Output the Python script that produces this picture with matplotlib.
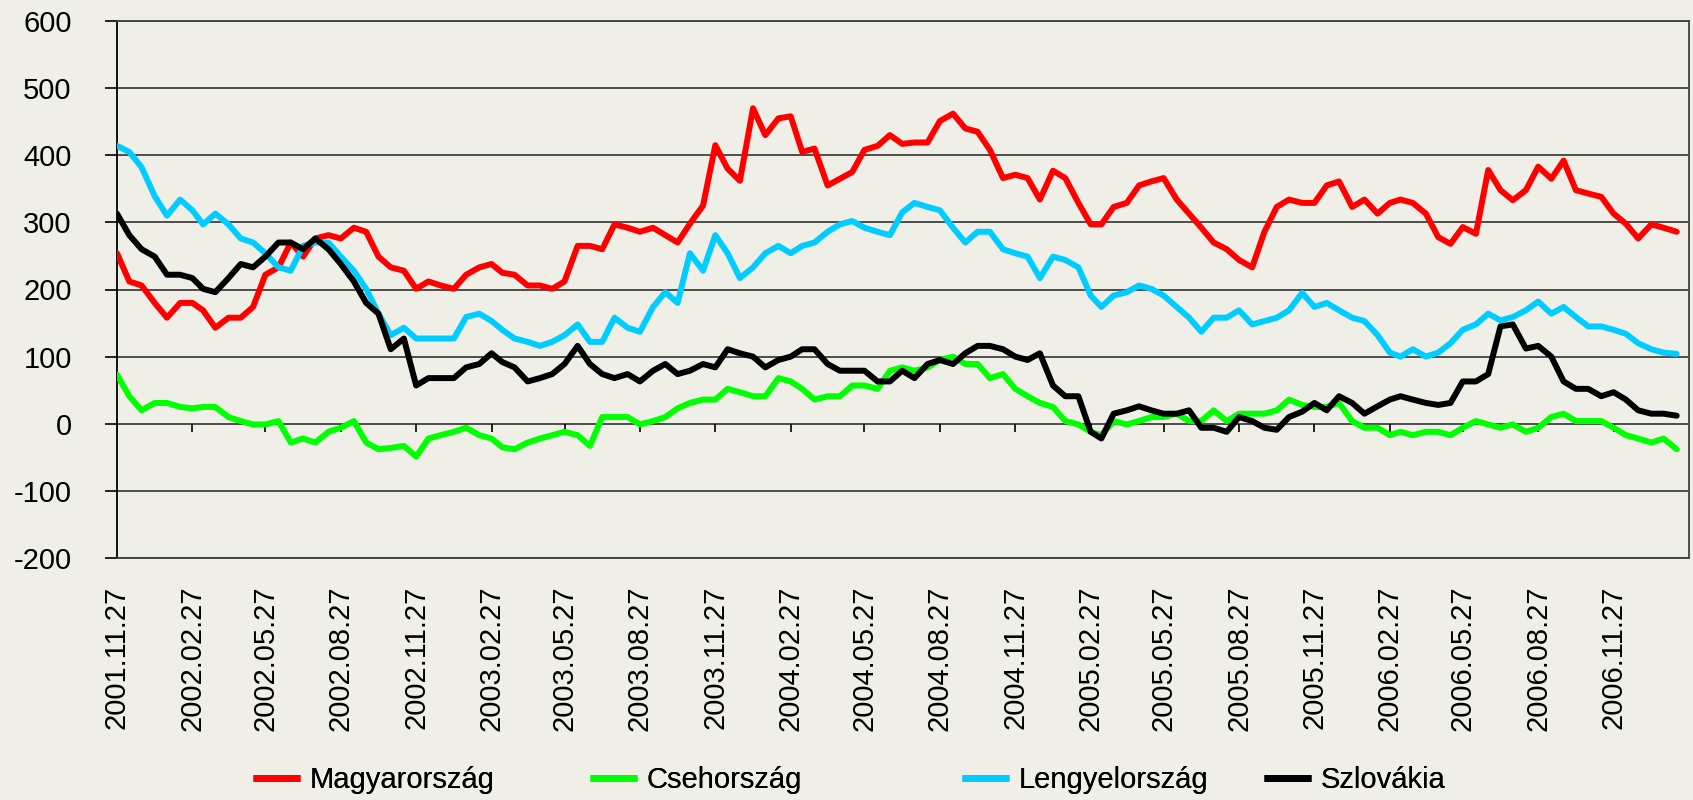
import matplotlib
matplotlib.use("Agg")
import matplotlib.pyplot as plt
import numpy as np
import pandas as pd

plt.rcParams['font.family'] = ['Liberation Sans', 'DejaVu Sans']
plt.rcParams['axes.unicode_minus'] = False

# felmintavételezés: minden hónap 12-e és 27-e, 2001.11.27 - 2007.02.12
honapok = pd.date_range('2001-11-01', periods=64, freq='MS')
datumok = []
for m in honapok:
    datumok.append(m + pd.Timedelta(days=11))
    datumok.append(m + pd.Timedelta(days=26))
datumok = pd.DatetimeIndex(datumok[1:127])

magyarorszag = [254, 212, 206, 180, 158, 180, 180, 169, 143, 158, 158, 174, 222, 233, 270, 249,
                276, 281, 276, 292, 286, 249, 233, 228, 201, 212, 206, 201, 222, 233, 238, 225,
                222, 206, 206, 201, 212, 265, 265, 260, 297, 292, 286, 292, 281, 270, 298, 325,
                415, 380, 362, 470, 430, 455, 458, 405, 410, 355, 365, 375, 408, 414, 430, 417,
                419, 419, 451, 462, 440, 435, 408, 366, 371, 366, 334, 377, 366, 329, 297, 297,
                323, 329, 355, 361, 366, 334, 313, 292, 270, 260, 244, 233, 286, 323, 334, 329,
                329, 355, 361, 323, 334, 313, 329, 334, 329, 313, 278, 268, 293, 283, 378, 348,
                333, 348, 383, 365, 392, 348, 343, 338, 313, 298, 276, 297, 292, 286]

csehorszag = [73, 41, 20, 31, 31, 25, 23, 25, 25, 10, 4, -1, -1, 4, -28, -22,
              -28, -12, -6, 4, -28, -38, -36, -33, -49, -22, -17, -12, -6, -17, -22, -35,
              -38, -28, -22, -17, -12, -17, -33, 10, 10, 10, -1, 4, 10, 23, 31, 36,
              36, 52, 47, 41, 41, 68, 63, 52, 36, 41, 41, 57, 57, 52, 79, 84,
              79, 84, 95, 100, 89, 89, 68, 74, 52, 41, 31, 25, 4, -1, -12, -17,
              4, -1, 4, 10, 10, 15, 4, 4, 20, 4, 15, 15, 15, 20, 36, 28,
              25, 25, 31, 4, -6, -6, -17, -12, -17, -12, -12, -17, -6, 4, -1, -6,
              -1, -12, -6, 10, 15, 4, 4, 4, -6, -17, -22, -28, -22, -38]

lengyelorszag = [414, 405, 382, 339, 310, 334, 318, 297, 313, 297, 276, 270, 254, 233, 228, 265,
                 270, 270, 249, 228, 201, 164, 132, 143, 127, 127, 127, 127, 159, 164, 153, 140,
                 127, 122, 116, 122, 132, 148, 122, 122, 158, 143, 137, 174, 196, 180, 254, 228,
                 281, 254, 217, 233, 254, 265, 254, 265, 270, 286, 297, 302, 292, 286, 281, 315,
                 329, 323, 318, 292, 270, 286, 286, 260, 254, 249, 217, 249, 244, 233, 191, 174,
                 191, 196, 206, 201, 191, 174, 158, 137, 158, 158, 169, 148, 153, 158, 169, 195,
                 174, 180, 169, 158, 153, 132, 106, 100, 111, 100, 106, 120, 140, 148, 164, 154,
                 159, 169, 182, 164, 174, 159, 145, 145, 140, 134, 120, 111, 106, 104]

szlovakia = [313, 281, 260, 249, 222, 222, 217, 201, 196, 217, 238, 233, 249, 270, 270, 260,
             276, 260, 238, 212, 180, 164, 111, 127, 57, 68, 68, 68, 84, 89, 105, 92,
             84, 63, 68, 74, 89, 116, 89, 74, 68, 74, 63, 79, 89, 74, 79, 89,
             84, 111, 105, 100, 84, 95, 100, 111, 111, 89, 79, 79, 79, 63, 63, 79,
             68, 89, 95, 89, 105, 116, 116, 111, 100, 95, 105, 57, 41, 41, -12, -22,
             15, 20, 26, 20, 15, 15, 20, -6, -6, -12, 10, 4, -6, -9, 10, 18,
             31, 20, 41, 31, 15, 26, 36, 41, 36, 31, 28, 31, 63, 63, 74, 145,
             148, 112, 116, 100, 63, 52, 52, 41, 47, 36, 20, 15, 15, 12]

sorozatok = [("Magyarország", magyarorszag, "#ff0000"),
             ("Csehország", csehorszag, "#00ff00"),
             ("Lengyelország", lengyelorszag, "#00ccff"),
             ("Szlovákia", szlovakia, "#000000")]

x_cimkek = ["2001.11.27", "2002.02.27", "2002.05.27", "2002.08.27", "2002.11.27",
            "2003.02.27", "2003.05.27", "2003.08.27", "2003.11.27", "2004.02.27",
            "2004.05.27", "2004.08.27", "2004.11.27", "2005.02.27", "2005.05.27",
            "2005.08.27", "2005.11.27", "2006.02.27", "2006.05.27", "2006.08.27",
            "2006.11.27"]
x_tickek = pd.to_datetime(x_cimkek, format="%Y.%m.%d")

hatter = "#efefe7"
W, H = 1693, 800
fig = plt.figure(figsize=(W / 100, H / 100), dpi=100, facecolor=hatter)
ax = fig.add_axes([117 / W, 1 - 558 / H, (1689 - 117) / W, (558 - 21) / H])
ax.set_facecolor(hatter)

vonalak = []
for nev, ertekek, szin in sorozatok:
    ln, = ax.plot(datumok, ertekek, color=szin, lw=4.3, label=nev,
                  solid_joinstyle='round', solid_capstyle='round', zorder=3)
    vonalak.append(ln)

ax.set_ylim(-200, 600)
ax.set_yticks(np.arange(-200, 601, 100))
ax.set_xlim(pd.Timestamp("2001-11-27"), pd.Timestamp("2007-02-27"))
ax.grid(axis='y', color='#404040', lw=1.3, zorder=1)
ax.set_xticks(x_tickek)
ax.set_xticklabels(x_cimkek, rotation=90, fontsize=21)
ax.tick_params(axis='x', length=0, pad=20)
ax.tick_params(axis='y', direction='out', length=8.6, width=1.2, color='black',
               labelsize=21, pad=24)

# kis osztásjelek a nulla-vonalon
ax.vlines(x_tickek, -13, 0, color='black', lw=1.2, zorder=2)

for s in ['top', 'right', 'bottom']:
    ax.spines[s].set_color('#404040')
    ax.spines[s].set_linewidth(1.3)
ax.spines['left'].set_color('black')
ax.spines['left'].set_linewidth(1.3)

# jelmagyarázat, elemenként elhelyezve
leg_x = [253, 590, 962, 1264]
for ln, x0 in zip(vonalak, leg_x):
    lg = fig.legend([ln], [ln.get_label()], loc='center left',
                    bbox_to_anchor=(x0 / W, 1 - 780 / H), frameon=False,
                    fontsize=21, handlelength=1.6, handletextpad=0.35,
                    borderpad=0, borderaxespad=0)
    for h in lg.legend_handles:
        h.set_linewidth(5)
        h.set_solid_capstyle('butt')
    fig.add_artist(lg)

plt.savefig("out.png", dpi=100, facecolor=hatter)
plt.close()
